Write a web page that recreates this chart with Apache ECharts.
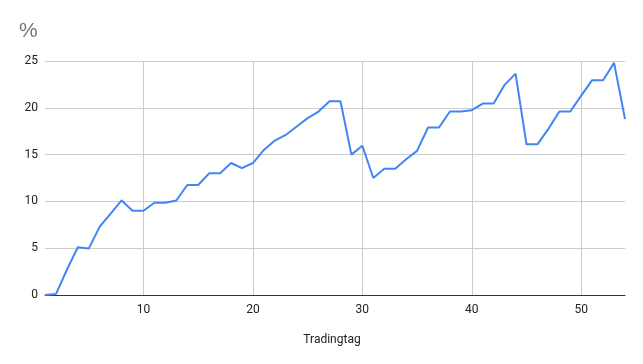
<!DOCTYPE html>
<html>
<head>
<meta charset="utf-8">
<script src="https://cdn.jsdelivr.net/npm/echarts@6/dist/echarts.min.js"></script>
<style>html,body{margin:0;padding:0;background:#fff;}#c{width:643px;height:364px;}</style>
</head>
<body>
<div id="c"></div>
<script>
const days = [];
for (let d = 1; d <= 54; d++) days.push(d);
const values = [
  0, 0.1, 2.7, 5.1, 4.96, 7.3, 8.7, 10.1, 9.0, 9.0,
  9.85, 9.85, 10.1, 11.75, 11.75, 13.0, 13.0, 14.1, 13.55, 14.1,
  15.5, 16.5, 17.1, 18.0, 18.9, 19.6, 20.7, 20.7, 15.0, 15.95,
  12.5, 13.5, 13.5, 14.5, 15.4, 17.9, 17.9, 19.6, 19.6, 19.75,
  20.45, 20.45, 22.45, 23.65, 16.1, 16.1, 17.75, 19.6, 19.6, 21.3,
  22.95, 22.95, 24.8, 18.8
];
const yTitle = '%';
const xTitle = 'Tradingtag';
const font = 'Roboto, Arial, sans-serif';

const chart = echarts.init(document.getElementById('c'), null, {renderer: 'canvas'});
chart.setOption({
  animation: false,
  backgroundColor: '#ffffff',
  title: {
    text: yTitle, left: 14, top: 16,
    textStyle: {fontFamily: 'Liberation Sans, Arial, sans-serif', fontSize: 21, fontWeight: 'normal', color: '#757575'}
  },
  grid: {left: 45, right: 18, top: 61, bottom: 69, containLabel: false},
  xAxis: {
    type: 'value', min: 1, max: 54, splitNumber: 5,
    name: xTitle, nameLocation: 'middle', nameGap: 39,
    nameTextStyle: {fontFamily: font, fontSize: 12, color: '#222222', padding: [0, 6, 0, 0]},
    axisLine: {show: true, lineStyle: {color: '#333333', width: 1}},
    axisTick: {show: false},
    axisLabel: {showMinLabel: false, showMaxLabel: false, fontFamily: font, fontSize: 12, color: '#222222', margin: 9},
    splitLine: {show: true, showMinLine: false, showMaxLine: false, lineStyle: {color: '#cccccc', width: 1}}
  },
  yAxis: {
    type: 'value', min: 0, max: 25, interval: 5,
    axisLine: {show: false},
    axisTick: {show: false},
    axisLabel: {fontFamily: font, fontSize: 12, color: '#222222', margin: 7},
    splitLine: {show: true, lineStyle: {color: '#cccccc', width: 1}}
  },
  series: [{
    type: 'line',
    data: days.map((d, i) => [d, values[i]]),
    showSymbol: false,
    symbol: 'none',
    lineStyle: {color: '#4285f4', width: 2},
    itemStyle: {color: '#4285f4'},
    z: 3
  }]
});
</script>
</body>
</html>
